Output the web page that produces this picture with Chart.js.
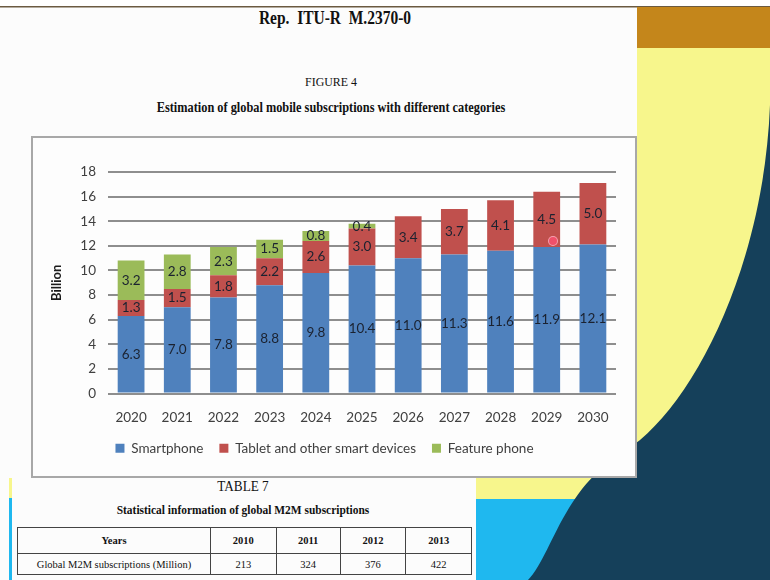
<!DOCTYPE html>
<html>
<head>
<meta charset="utf-8">
<script src="https://cdn.jsdelivr.net/npm/chart.js@4"></script>
<style>
  body { margin: 0; width: 770px; height: 580px; position: relative; overflow: hidden; background: #fcfcfc; font-family: "Liberation Serif", serif; color: #111; }
  .abs { position: absolute; }
  .serif { font-family: "Liberation Serif", serif; white-space: nowrap; transform-origin: center; }
  #box { left: 31px; top: 136px; width: 602px; height: 338px; border: 2px solid #a8a8a8; background: #fdfdfd; }
  #chartCanvas { position: absolute; left: 33px; top: 138px; }
  table { border-collapse: collapse; font-family: "Liberation Serif", serif; font-size: 10.5px; }
  td { border: 1px solid #444; text-align: center; padding: 0; }
</style>
</head>
<body>
<!-- slide background on the right -->
<svg class="abs" style="left:0;top:0" width="770" height="580">
  <rect x="0" y="0" width="770" height="7" fill="#ffffff"/>
  <rect x="0" y="6" width="770" height="1.5" fill="#6b5a40"/>
  <rect x="637" y="7" width="133" height="41" fill="#c4861b"/>
  <rect x="637" y="48" width="133" height="532" fill="#f7f68c"/>
  <rect x="476" y="478" width="161" height="102" fill="#f7f68c"/>
  <rect x="476" y="499" width="120" height="81" fill="#1fb8ef"/>
  <rect x="9" y="478" width="3" height="102" fill="#1fb8ef"/>
  <rect x="9" y="478" width="3" height="20" fill="#f7f68c"/>
  <path d="M770,105 C764,260 700,390 640,440 L600,470 C560,505 548,560 528,580 L770,580 Z" fill="#15405a"/>
</svg>

<!-- document page -->
<div class="abs" style="left:0;top:8px;width:637px;height:470px;background:#fcfcfc"></div>
<div class="abs" style="left:12px;top:478px;width:464px;height:102px;background:#fcfcfc"></div>

<div class="abs serif" style="left:235px;top:8px;width:200px;text-align:center;font-size:18px;font-weight:bold;transform:scaleX(0.86)">Rep.&nbsp; ITU-R&nbsp; M.2370-0</div>
<div class="abs serif" style="left:281px;top:74px;width:100px;text-align:center;font-size:13.5px;transform:scaleX(0.88)">FIGURE 4</div>
<div class="abs serif" style="left:81px;top:100px;width:500px;text-align:center;font-size:14px;font-weight:bold;transform:scaleX(0.88)">Estimation of global mobile subscriptions with different categories</div>

<div id="box" class="abs"></div>
<canvas id="chartCanvas" width="601" height="337"></canvas>
<div class="abs" style="left:549px;top:237px;width:8px;height:8px;border-radius:50%;background:#f0506a;box-shadow:0 0 0 1px #f7a0b0"></div>

<div class="abs serif" style="left:193px;top:478px;width:100px;text-align:center;font-size:15px;transform:scaleX(0.88)">TABLE 7</div>
<div class="abs serif" style="left:83px;top:502px;width:320px;text-align:center;font-size:13px;font-weight:bold;transform:scaleX(0.88)">Statistical information of global M2M subscriptions</div>

<table class="abs" id="m2m" style="left:17px;top:527px;width:455px">
  <tr style="height:26px;font-weight:bold"><td style="width:192px">Years</td><td>2010</td><td>2011</td><td>2012</td><td>2013</td></tr>
  <tr style="height:21px"><td>Global M2M subscriptions (Million)</td><td>213</td><td>324</td><td>376</td><td>422</td></tr>
</table>

<script>
// chart data
var years = ['2020', '2021', '2022', '2023', '2024', '2025', '2026', '2027', '2028', '2029', '2030'];
var smartphone = [6.3, 7.0, 7.8, 8.8, 9.8, 10.4, 11.0, 11.3, 11.6, 11.9, 12.1];
var tablet = [1.3, 1.5, 1.8, 2.2, 2.6, 3.0, 3.4, 3.7, 4.1, 4.5, 5.0];
var featurePhone = [3.2, 2.8, 2.3, 1.5, 0.8, 0.4, null, null, null, null, null];
var seriesNames = ['Smartphone', 'Tablet and other smart devices', 'Feature phone'];

var textFont = 'Lato, "Open Sans", sans-serif';

// draws the value in the middle of every stacked segment
var segmentLabels = {
  id: 'segmentLabels',
  afterDatasetsDraw: function (chart) {
    var ctx = chart.ctx;
    ctx.save();
    ctx.font = '13.5px ' + textFont;
    ctx.fillStyle = '#1b2230';
    ctx.textAlign = 'center';
    ctx.textBaseline = 'middle';
    chart.data.datasets.forEach(function (ds, i) {
      chart.getDatasetMeta(i).data.forEach(function (bar, j) {
        var v = ds.data[j];
        if (v == null) return;
        var p = bar.getProps(['x', 'y', 'base'], true);
        ctx.fillText(v.toFixed(1), p.x, (p.y + p.base) / 2);
      });
    });
    ctx.restore();
  }
};

var canvas = document.getElementById('chartCanvas');
var chart = new Chart(canvas, {
  type: 'bar',
  data: {
    labels: years,
    datasets: [
      { label: seriesNames[0], data: smartphone, backgroundColor: '#4f81bd' },
      { label: seriesNames[1], data: tablet, backgroundColor: '#c0504d' },
      { label: seriesNames[2], data: featurePhone, backgroundColor: '#9bbb59' }
    ]
  },
  options: {
    responsive: false,
    animation: false,
    devicePixelRatio: 1,
    categoryPercentage: 1,
    barPercentage: 0.58,
    layout: { padding: { left: 0, right: 18, top: 34, bottom: 10 } },
    plugins: {
      tooltip: { enabled: false },
      legend: {
        position: 'bottom',
        labels: {
          boxWidth: 9,
          boxHeight: 9,
          padding: 16,
          color: '#404040',
          font: { family: textFont, size: 13.5 }
        }
      }
    },
    scales: {
      x: {
        stacked: true,
        afterFit: function (s) { s.height = 32; },
        grid: { display: false, drawTicks: false },
        border: { display: false },
        ticks: { color: '#404040', padding: 16, font: { family: textFont, size: 13.5 } }
      },
      y: {
        stacked: true,
        min: 0,
        max: 18,
        afterFit: function (s) { s.width = 75; },
        border: { display: false },
        grid: { color: '#8e8e8e', lineWidth: 2, drawTicks: false },
        ticks: { stepSize: 2, padding: 12, color: '#404040', font: { family: textFont, size: 13.5 } },
        title: {
          display: true,
          text: 'Billion',
          color: '#1a1a1a',
          padding: { top: 16, bottom: 0 },
          font: { family: textFont, size: 13, weight: 'bold' }
        }
      }
    }
  },
  plugins: [segmentLabels]
});
</script>
</body>
</html>
